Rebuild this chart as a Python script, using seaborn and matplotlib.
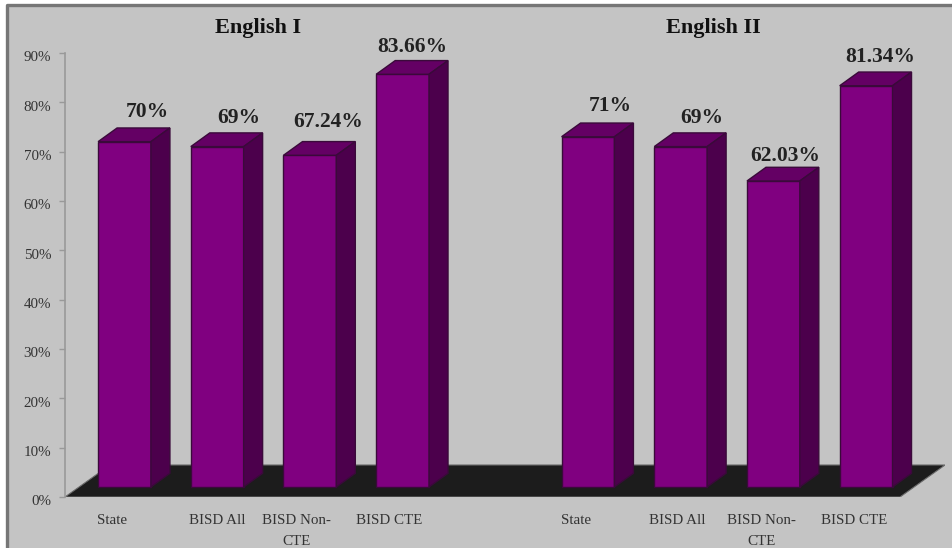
import matplotlib
matplotlib.use("Agg")
import matplotlib.pyplot as plt
from matplotlib.lines import Line2D
from matplotlib.patches import Polygon, Rectangle
from matplotlib.transforms import ScaledTranslation
import pandas as pd
import seaborn as sns

groups = ["English I", "English II"]
categories = ["State", "BISD All", "BISD Non-\nCTE", "BISD CTE"]
english_1 = [70, 69, 67.24, 83.66]
english_2 = [71, 69, 62.03, 81.34]
labels_1 = ["70%", "69%", "67.24%", "83.66%"]
labels_2 = ["71%", "69%", "62.03%", "81.34%"]
y_ticks = [0, 10, 20, 30, 40, 50, 60, 70, 80, 90]

# label nudges in pixels (x, y above bar top)
label_nudge = [(23, 30), (22, 29), (18, 33), (10, 27), (22, 31), (21, 29), (12, 25), (14, 29)]
tick_nudge = [-12, 0, -13, -13, -12, -3, -12, -12]

FRONT = "#800080"
TOP = "#640064"
SIDE = "#4c004c"
EDGE = "#3a0a3a"
BG = "#c4c4c4"

df = pd.DataFrame({
    "slot": [f"{g}|{c}" for g in groups for c in categories],
    "value": english_1 + english_2,
})
order = [f"{groups[0]}|{c}" for c in categories] + ["gap"] + [f"{groups[1]}|{c}" for c in categories]

sns.set_theme(style="white")
plt.rcParams["font.family"] = ["Liberation Serif", "DejaVu Serif"]

W, H = 952, 548
fig = plt.figure(figsize=(W / 100, H / 100), dpi=100, facecolor="white")
fig.add_artist(Rectangle((7 / W, 0), 1, (H - 5) / H, transform=fig.transFigure,
                         facecolor=BG, edgecolor="none", zorder=-1))
# frame only shows on the top and left
fig.add_artist(Line2D([7 / W, 7 / W, 1], [0, (H - 5) / H, (H - 5) / H], transform=fig.transFigure,
                      color="#767676", linewidth=2.4, zorder=-0.5))

ax = fig.add_axes([65 / W, (H - 497) / H, 880 / W, 444 / H])
ax.patch.set_alpha(0)

sns.barplot(data=df, x="slot", y="value", order=order, width=0.57, color=FRONT,
            saturation=1, edgecolor=EDGE, linewidth=1.0, ax=ax, zorder=3)

px_x = 92.7  # pixels per category slot
px_y = 49.33 / 10  # pixels per percent
ax.set_xlim((65 - 124.5) / px_x, (945 - 124.5) / px_x)
ax.set_ylim(0, 90)

base = 10 / px_y  # bars stand a bit behind the front edge of the floor
dx = 19 / px_x
dy = 13.7 / px_y

# black floor
x0 = ax.get_xlim()[0]
x1 = (900 - 124.5) / px_x
fdx = 45 / px_x
fdy = 32 / px_y
ax.add_patch(Polygon([(x0, 0), (x1, 0), (x1 + fdx, fdy), (x0 + fdx, fdy)],
                     facecolor="#1c1c1c", edgecolor="#6a6a6a", linewidth=0.8, zorder=1))

bars = [p for p in ax.patches if isinstance(p, Rectangle) and p.get_height() > 0]
all_labels = labels_1 + labels_2
for bar, text, (nx, ny) in zip(bars, all_labels, label_nudge):
    bar.set_y(base)
    l = bar.get_x()
    r = l + bar.get_width()
    t = base + bar.get_height()
    ax.add_patch(Polygon([(l, t), (r, t), (r + dx, t + dy), (l + dx, t + dy)],
                         facecolor=TOP, edgecolor=EDGE, linewidth=1.0, zorder=3))
    ax.add_patch(Polygon([(r, base), (r + dx, base + dy), (r + dx, t + dy), (r, t)],
                         facecolor=SIDE, edgecolor=EDGE, linewidth=1.0, zorder=3))
    ax.annotate(text, ((l + r) / 2, t), xytext=(nx * 0.72, ny * 0.72), textcoords="offset points",
                ha="center", va="center", fontsize=15.5, fontweight="bold", color="#222222",
                annotation_clip=False)

# x tick labels sit left of the bars, as in a 3D category axis
tick_pos = [b.get_x() + b.get_width() / 2 + n / px_x for b, n in zip(bars, tick_nudge)]
ax.set_xticks(tick_pos)
ax.set_xticklabels(categories + categories, fontsize=10.8, color="#333333", linespacing=1.75)
ax.tick_params(axis="x", length=0, pad=12.5)

ax.set_yticks(y_ticks)
ax.set_yticklabels([f"{v}%" for v in y_ticks], fontsize=10.8, color="#333333")
ax.tick_params(axis="y", length=4, width=1, color="#999999", left=True, pad=6)
shift = ScaledTranslation(0, -2.5 / 72, fig.dpi_scale_trans)
for lab in ax.get_yticklabels():
    lab.set_transform(lab.get_transform() + shift)
ax.set_xlabel("")
ax.set_ylabel("")

for s in ["top", "right", "bottom"]:
    ax.spines[s].set_visible(False)
ax.spines["left"].set_color("#999999")
ax.spines["left"].set_linewidth(1.2)

# group titles
fig.text(258 / W, (H - 28) / H, groups[0], ha="center", va="center",
         fontsize=16, fontweight="bold", color="#111111")
fig.text(713 / W, (H - 28) / H, groups[1], ha="center", va="center",
         fontsize=16, fontweight="bold", color="#111111")

fig.savefig("out.png", dpi=100)
